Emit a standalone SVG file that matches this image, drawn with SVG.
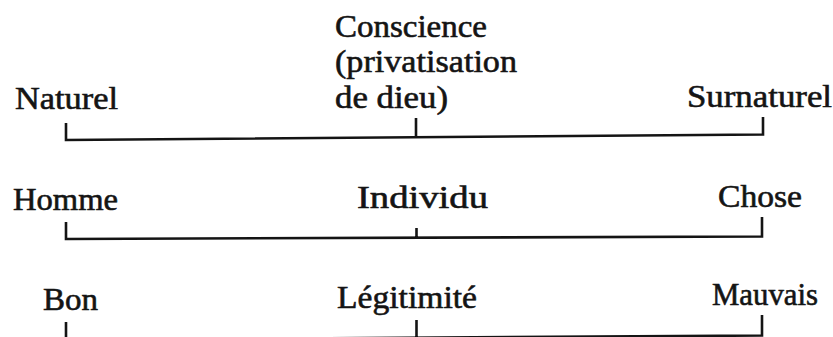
<svg xmlns="http://www.w3.org/2000/svg" width="833" height="337" viewBox="0 0 833 337">
<style>
  text { font-family: "Liberation Serif", "DejaVu Serif", serif; font-size: 32px; fill: #141414; stroke: #141414; stroke-width: 0.6; }
  .br { fill: none; stroke: #141414; stroke-width: 2.6; stroke-linejoin: miter; stroke-linecap: butt; }
</style>
<rect width="833" height="337" fill="#ffffff"/>
<g id="connectors">
  <path class="br" d="M66,123 V140 L763,134.5 V117 M416,118 V137.5"/>
  <path class="br" d="M66,222 V239 L762,236.5 V217 M416.5,228 V238"/>
  <path class="br" d="M66,322 V340 L762,335.5 V315 M416.5,320 V338.5"/>
</g>
<g id="naturel"><text x="15" y="109" textLength="103" lengthAdjust="spacingAndGlyphs">Naturel</text></g>
<g id="conscience">
  <text x="335" y="37" textLength="152" lengthAdjust="spacingAndGlyphs">Conscience</text>
  <text x="335" y="72" textLength="182" lengthAdjust="spacingAndGlyphs">(privatisation</text>
  <text x="335" y="108" textLength="113" lengthAdjust="spacingAndGlyphs">de dieu)</text>
</g>
<g id="surnaturel"><text x="687" y="107" textLength="145" lengthAdjust="spacingAndGlyphs">Surnaturel</text></g>
<g id="homme"><text x="13" y="210" textLength="105" lengthAdjust="spacingAndGlyphs">Homme</text></g>
<g id="individu"><text x="357" y="208" textLength="131" lengthAdjust="spacingAndGlyphs">Individu</text></g>
<g id="chose"><text x="718" y="207" textLength="84" lengthAdjust="spacingAndGlyphs">Chose</text></g>
<g id="bon"><text x="43" y="310" textLength="55" lengthAdjust="spacingAndGlyphs">Bon</text></g>
<g id="legitimite"><text x="337" y="308" textLength="140" lengthAdjust="spacingAndGlyphs">Légitimité</text></g>
<g id="mauvais"><text x="712" y="305" textLength="106" lengthAdjust="spacingAndGlyphs">Mauvais</text></g>
</svg>
